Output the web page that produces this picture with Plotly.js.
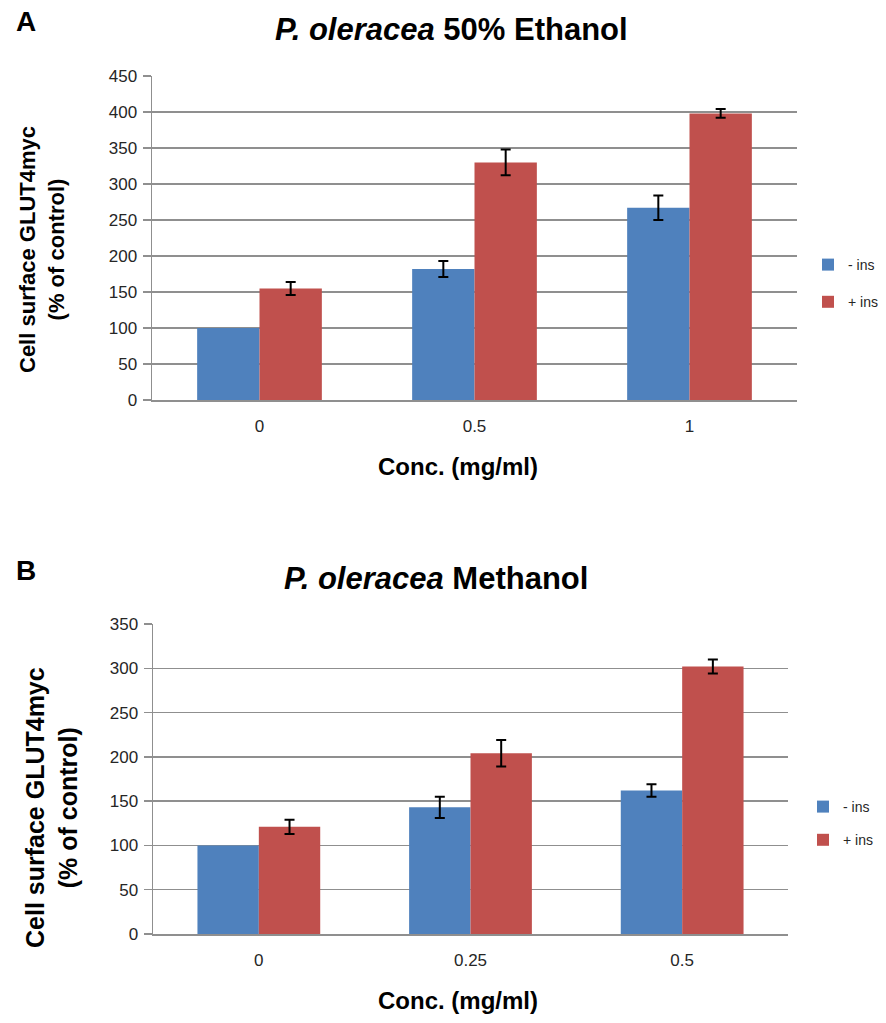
<!DOCTYPE html>
<html>
<head>
<meta charset="utf-8">
<script src="https://cdn.plot.ly/plotly-3.0.1.min.js"></script>
<style>html,body{margin:0;padding:0;background:#fff;}#chart{width:886px;height:1023px;}</style>
</head>
<body>
<div id="chart"></div>
<script>
// Panel A: P. oleracea 50% Ethanol
// (control bar, 100%, has no error bar -> NaN)
const concA = ["0", "0.5", "1"];
const minusInsA = [100, 182, 267];
const minusInsErrA = [NaN, 11, 17];
const plusInsA = [155, 330, 398];
const plusInsErrA = [9, 18, 6];

// Panel B: P. oleracea Methanol
const concB = ["0", "0.25", "0.5"];
const minusInsB = [100, 143, 162];
const minusInsErrB = [NaN, 12, 7];
const plusInsB = [121, 204, 302];
const plusInsErrB = [8, 15, 8];

const seriesNames = ["- ins", "+ ins"];
const blue = "#4F81BD", red = "#C0504D";
const FONT = "Liberation Sans, Arial, sans-serif";
const W = 886, H = 1023;
const px = v => v / W;
const py = v => 1 - v / H;

function errBar(arr) {
  return {type: "data", array: arr, visible: true, color: "#000", thickness: 2, width: 5};
}

const traces = [
  {type: "bar", x: concA, y: minusInsA, name: seriesNames[0], marker: {color: blue},
   error_y: errBar(minusInsErrA), xaxis: "x", yaxis: "y", legend: "legend", legendgroup: "a1"},
  {type: "bar", x: concA, y: plusInsA, name: seriesNames[1], marker: {color: red},
   error_y: errBar(plusInsErrA), xaxis: "x", yaxis: "y", legend: "legend", legendgroup: "a2"},
  {type: "bar", x: concB, y: minusInsB, name: seriesNames[0], marker: {color: blue},
   error_y: errBar(minusInsErrB), xaxis: "x2", yaxis: "y2", legend: "legend2", legendgroup: "b1"},
  {type: "bar", x: concB, y: plusInsB, name: seriesNames[1], marker: {color: red},
   error_y: errBar(plusInsErrB), xaxis: "x2", yaxis: "y2", legend: "legend2", legendgroup: "b2"}
];

const grid = "#8f8f8f";
const tickFont = {family: FONT, size: 17, color: "#262626"};
function xAx(domain, anchor) {
  return {domain: domain, anchor: anchor, type: "category", showline: true, linecolor: grid, linewidth: 1.5,
    ticks: "", ticklabelstandoff: 10, tickfont: tickFont, automargin: false,
    showgrid: false, zeroline: false, fixedrange: true};
}
function yAx(domain, anchor, range, dtick) {
  return {domain: domain, anchor: anchor, range: range, dtick: dtick, showline: true, linecolor: grid, linewidth: 1.5,
    ticks: "outside", ticklen: 8, tickcolor: grid, tickwidth: 1.5, ticklabelstandoff: 2, automargin: false,
    tickfont: tickFont,
    showgrid: true, gridcolor: grid, gridwidth: 1.5, zeroline: false, fixedrange: true};
}

function ann(text, x, y, size, angle) {
  return {text: text, x: px(x), y: py(y), xref: "paper", yref: "paper", showarrow: false,
    xanchor: "center", yanchor: "middle", textangle: angle || 0,
    font: {family: FONT, size: size, color: "#000"}};
}

const legendBase = {xanchor: "left", yanchor: "top", bgcolor: "rgba(0,0,0,0)",
  font: {family: FONT, size: 14, color: "#262626"}, itemwidth: 30, traceorder: "grouped"};

const layout = {
  width: W, height: H,
  margin: {l: 0, r: 0, t: 0, b: 0, autoexpand: false},
  paper_bgcolor: "#fff", plot_bgcolor: "#fff",
  barmode: "group", bargap: 0.42, bargroupgap: 0,
  font: {family: FONT, color: "#000"},
  showlegend: true,
  xaxis: xAx([px(152), px(797)], "y"),
  yaxis: yAx([py(400), py(76)], "x", [0, 450], 50),
  xaxis2: xAx([px(153), px(788)], "y2"),
  yaxis2: yAx([py(934), py(624)], "x2", [0, 350], 50),
  legend: Object.assign({x: px(808), y: py(249), tracegroupgap: 16}, legendBase),
  legend2: Object.assign({x: px(803), y: py(791), tracegroupgap: 12}, legendBase),
  annotations: [
    ann("<b>A</b>", 26, 22, 28),
    ann("<b><i>P. oleracea</i> 50% Ethanol</b>", 451, 30, 31),
    ann("<b>Cell surface GLUT4myc<br>(% of control)</b>", 42, 250, 22, -90),
    ann("<b>Conc. (mg/ml)</b>", 458, 466, 24),
    ann("<b>B</b>", 26, 570, 28),
    ann("<b><i>P. oleracea</i> Methanol</b>", 436, 578, 31),
    ann("<b>Cell surface GLUT4myc<br>(% of control)</b>", 51, 808, 25, -90),
    ann("<b>Conc. (mg/ml)</b>", 458, 1000, 24)
  ]
};

Plotly.newPlot("chart", traces, layout, {displayModeBar: false, staticPlot: true});
</script>
</body>
</html>
